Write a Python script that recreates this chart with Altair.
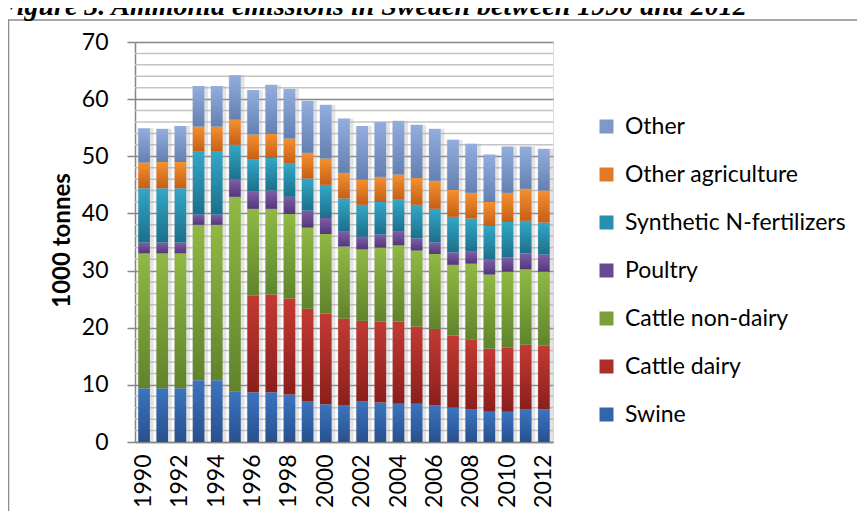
import altair as alt
import pandas as pd

# ---------------- data ----------------
years = list(range(1990, 2013))
series = ["Swine", "Cattle dairy", "Cattle non-dairy", "Poultry",
          "Synthetic N-fertilizers", "Other agriculture", "Other"]

swine = [9.4, 9.4, 9.4, 10.8, 10.8, 8.8, 8.7, 8.7, 8.3, 7.1, 6.6, 6.4, 7.1, 6.9, 6.7,
         6.7, 6.4, 6.0, 5.7, 5.3, 5.3, 5.7, 5.7]
cattle_dairy = [0, 0, 0, 0, 0, 0, 16.9, 17.1, 16.8, 16.2, 15.9, 15.2, 14.1, 14.2, 14.4,
                13.5, 13.4, 12.6, 12.2, 11.0, 11.2, 11.3, 11.2]
cattle_nondairy = [23.6, 23.6, 23.6, 27.2, 27.2, 34.1, 15.2, 15.0, 14.8, 14.2, 13.9, 12.6,
                   12.5, 12.9, 13.3, 13.3, 13.1, 12.4, 13.3, 13.0, 13.3, 13.2, 12.9]
poultry = [1.9, 1.9, 1.9, 1.8, 1.8, 3.0, 3.0, 3.2, 3.0, 3.0, 2.8, 2.6, 2.2, 2.3, 2.4,
           2.1, 2.0, 2.2, 2.1, 2.6, 2.5, 2.8, 3.0]
synthetic = [9.5, 9.5, 9.5, 11.0, 11.0, 6.1, 5.6, 5.7, 5.8, 5.6, 5.8, 5.8, 5.6, 5.7, 5.6,
             5.9, 5.9, 6.2, 5.8, 5.9, 6.2, 5.7, 5.6]
other_agriculture = [4.5, 4.6, 4.6, 4.4, 4.4, 4.4, 4.4, 4.2, 4.4, 4.5, 4.6, 4.5, 4.4, 4.4,
                     4.4, 4.7, 4.9, 4.7, 4.5, 4.2, 5.1, 5.6, 5.6]
other = [6.0, 5.8, 6.3, 7.1, 7.1, 7.8, 7.8, 8.6, 8.7, 9.1, 9.4, 9.5, 9.4, 9.6, 9.4,
         9.3, 9.1, 8.8, 8.6, 8.3, 8.1, 7.4, 7.3]

y_ticks = [0, 10, 20, 30, 40, 50, 60, 70]
x_label_years = years[::2]
minor_ticks = [v for v in range(2, 70, 2) if v % 10 != 0]

title_text = "Figure 3. Ammonia emissions in Sweden between 1990 and 2012"
y_title = "1000 tonnes"

# gradient colours per series (top, bottom) and flat legend colour
top_colors = ["#3B74BF", "#C43A33", "#90B944", "#7D5DA8", "#33A7C8", "#F5902F", "#93AEDE"]
bottom_colors = ["#28508E", "#8A1F1C", "#60832C", "#533878", "#1C6F8A", "#C45F17", "#6480B0"]
legend_colors = ["#3465AA", "#AE2E2A", "#7AA03A", "#674A90", "#2890AE", "#E27A25", "#7E98C8"]

all_vals = [swine, cattle_dairy, cattle_nondairy, poultry, synthetic, other_agriculture, other]
rows = []
for i, yr in enumerate(years):
    for k, (s, vals) in enumerate(zip(series, all_vals)):
        rows.append({"year": yr, "series": s, "order": k, "value": vals[i]})
df = pd.DataFrame(rows)

W, H = 418, 400
FONT = "Lato"

x_scale = alt.Scale(paddingInner=0.36, paddingOuter=0.18)
y_scale = alt.Scale(domain=[0, 70], nice=False, zero=True)

x_axis = alt.Axis(
    title=None, values=x_label_years, labelAngle=270, labelAlign="right",
    labelBaseline="middle", labelPadding=12, ticks=False, grid=False,
    domainColor="#868686", domainWidth=1.5, labelFont=FONT, labelFontSize=23,
    labelColor="#000000",
)
y_axis = alt.Axis(
    title=y_title, values=y_ticks, grid=True, gridColor="#868686", gridWidth=1.5,
    domainColor="#868686", domainWidth=1.5, tickColor="#868686", tickWidth=1.5,
    tickSize=8, labelPadding=19, labelFont=FONT, labelFontSize=23, labelColor="#000000",
    titleFont=FONT, titleFontSize=24, titleFontWeight="bold", titleColor="#000000",
    titleAngle=270, titleX=-73, titleY=198, titleAlign="center", titleBaseline="middle",
)

# frame around the figure
frame = alt.Chart(pd.DataFrame({"a": [0]})).mark_rect(
    fillOpacity=0, stroke="#8C8C8C", strokeWidth=1.5
).encode(x=alt.value(-126.5), y=alt.value(-22), x2=alt.value(900), y2=alt.value(700))

# minor gridlines (every 2 units)
minor = alt.Chart(pd.DataFrame({"v": minor_ticks})).mark_rule(
    color="#C4C4C4", strokeWidth=1.5
).encode(
    y=alt.Y("v:Q", scale=y_scale, axis=y_axis),
    x=alt.value(0), x2=alt.value(W),
)

stacked = alt.Chart(df).transform_stack(
    stack="value", groupby=["year"], as_=["v0", "v1"],
    sort=[alt.SortField("order", order="ascending")],
)

shadow = alt.Chart(df).transform_aggregate(
    total="sum(value)", groupby=["year"]
).mark_bar(color="#B0B0B0", opacity=0.35, size=16, xOffset=1.5).encode(
    x=alt.X("year:O", scale=x_scale, axis=x_axis),
    y=alt.Y("total:Q", scale=y_scale, axis=y_axis),
)

layers = [frame, minor, shadow]
for k, s in enumerate(series):
    grad = alt.LinearGradient(
        gradient="linear",
        stops=[alt.GradientStop(offset=0, color=top_colors[k]),
               alt.GradientStop(offset=1, color=bottom_colors[k])],
        x1=0, x2=0, y1=0, y2=1,
    )
    layers.append(
        stacked.transform_filter(alt.datum.series == s).mark_bar(color=grad).encode(
            x=alt.X("year:O", scale=x_scale, axis=x_axis),
            y=alt.Y("v1:Q", scale=y_scale, axis=y_axis),
            y2="v0:Q",
        )
    )

legend_order = list(reversed(series))
legend_layer = stacked.mark_square(opacity=0, size=1).encode(
    x=alt.X("year:O", scale=x_scale, axis=x_axis),
    y=alt.Y("v1:Q", scale=y_scale, axis=y_axis),
    color=alt.Color(
        "series:N",
        scale=alt.Scale(domain=legend_order, range=list(reversed(legend_colors))),
        legend=alt.Legend(
            title=None, orient="none", legendX=460, legendY=73, padding=0,
            symbolType="square", symbolSize=196, symbolStrokeWidth=0, symbolOpacity=1,
            labelFont=FONT, labelFontSize=23, labelColor="#000000", labelOffset=7,
            labelLimit=400, rowPadding=24,
        ),
    ),
)
layers.append(legend_layer)

title_layer = alt.Chart(pd.DataFrame({"t": [title_text]})).mark_text(
    align="left", baseline="alphabetic", font="Liberation Serif", fontSize=28,
    fontWeight="bold", fontStyle="italic", color="#000000",
).encode(x=alt.value(-137), y=alt.value(-27), text="t:N")
layers.append(title_layer)

chart = alt.layer(*layers).properties(
    width=W, height=H,
    autosize=alt.AutoSizeParams(type="none"),
    padding={"left": 127, "top": 34, "right": 304, "bottom": 69},
).configure_view(stroke=None).configure(background="#FFFFFF")

chart.save("out.html", embed_options={"renderer": "svg", "actions": False})
